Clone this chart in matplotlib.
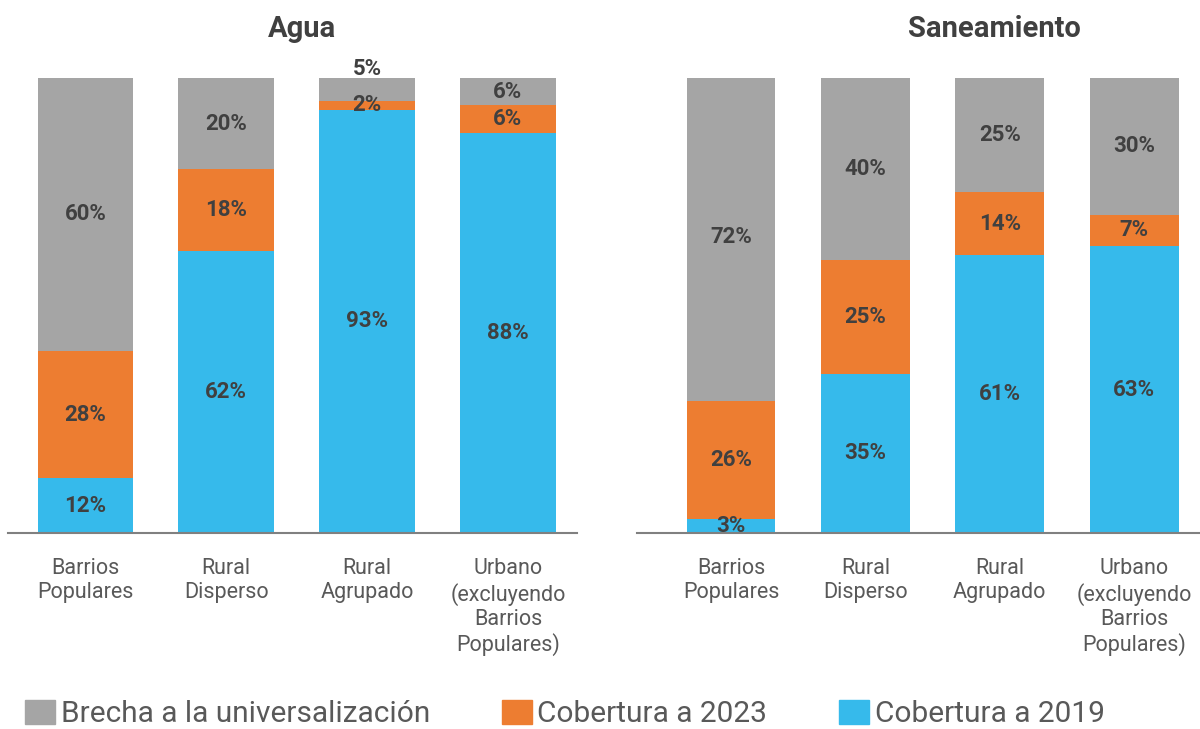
import numpy as np
import matplotlib
matplotlib.use("Agg")
import matplotlib.pyplot as plt
from matplotlib.patches import Patch

# ------------------------------
# Data
# ------------------------------
categorias = ["Barrios\nPopulares", "Rural\nDisperso", "Rural\nAgrupado",
              "Urbano\n(excluyendo\nBarrios\nPopulares)"]

agua_2019 = [12, 62, 93, 88]
agua_2023 = [28, 18, 2, 6]
agua_brecha = [60, 20, 5, 6]

san_2019 = [3, 35, 61, 63]
san_2023 = [26, 25, 14, 7]
san_brecha = [72, 40, 25, 30]

series_names = ["Brecha a la universalización", "Cobertura a 2023", "Cobertura a 2019"]

C_GRAY = "#A5A5A5"
C_ORANGE = "#ED7D31"
C_BLUE = "#36BAEB"
TXT = "#404040"

plt.rcParams["font.family"] = ["Roboto", "DejaVu Sans"]

fig = plt.figure(figsize=(12, 7.29), dpi=100)
W, H = 1200, 729


def px_axes(x0, x1, y_top, y_bot):
    return fig.add_axes([x0 / W, 1 - y_bot / H, (x1 - x0) / W, (y_bot - y_top) / H])


def draw_panel(ax, title, v19, v23, vbr, xlim, width, title_x):
    x = np.arange(len(categorias))
    ax.bar(x, v19, width, color=C_BLUE)
    ax.bar(x, v23, width, bottom=v19, color=C_ORANGE)
    base = np.array(v19) + np.array(v23)
    ax.bar(x, vbr, width, bottom=base, color=C_GRAY)

    for i in range(len(x)):
        ax.text(x[i], v19[i] / 2, f"{v19[i]}%", ha="center", va="center",
                fontsize=16, fontweight="bold", color=TXT)
        ax.text(x[i], v19[i] + v23[i] / 2, f"{v23[i]}%", ha="center", va="center",
                fontsize=16, fontweight="bold", color=TXT)
        y_br = base[i] + vbr[i] / 2
        if vbr[i] < 6:
            y_br = base[i] + vbr[i] + 2
        ax.text(x[i], y_br, f"{vbr[i]}%", ha="center", va="center",
                fontsize=16, fontweight="bold", color=TXT, clip_on=False)

    ax.set_xlim(*xlim)
    ax.set_ylim(0, 100)
    ax.set_xticks(x)
    ax.set_xticklabels(categorias, fontsize=15.5, color="#595959", fontweight="normal",
                       linespacing=1.2)
    ax.tick_params(axis="x", length=0, pad=18)
    ax.set_yticks([])
    for s in ["top", "right", "left"]:
        ax.spines[s].set_visible(False)
    ax.spines["bottom"].set_color("#808080")
    ax.spines["bottom"].set_linewidth(1.5)
    fig.text(title_x / W, 1 - 29 / H, title, ha="center", va="center",
             fontsize=21, fontweight="bold", color=TXT)


ax1 = px_axes(8, 577, 78, 533)
ax2 = px_axes(637, 1200, 78, 533)

draw_panel(ax1, "Agua", agua_2019, agua_2023, agua_brecha, (-0.55, 3.49), 0.68, 302)
draw_panel(ax2, "Saneamiento", san_2019, san_2023, san_brecha, (-0.70, 3.49), 0.66, 994)

handles = [Patch(color=C_GRAY), Patch(color=C_ORANGE), Patch(color=C_BLUE)]
leg = fig.legend(handles, series_names, loc="center left", bbox_to_anchor=(4 / W, 1 - 714 / H),
                 ncol=3, frameon=False, fontsize=21.5, handlelength=1.0, handleheight=0.9,
                 handletextpad=0.2, columnspacing=2.4, borderpad=0.2)
for t in leg.get_texts():
    t.set_color("#595959")

fig.savefig("out.png", dpi=100)
